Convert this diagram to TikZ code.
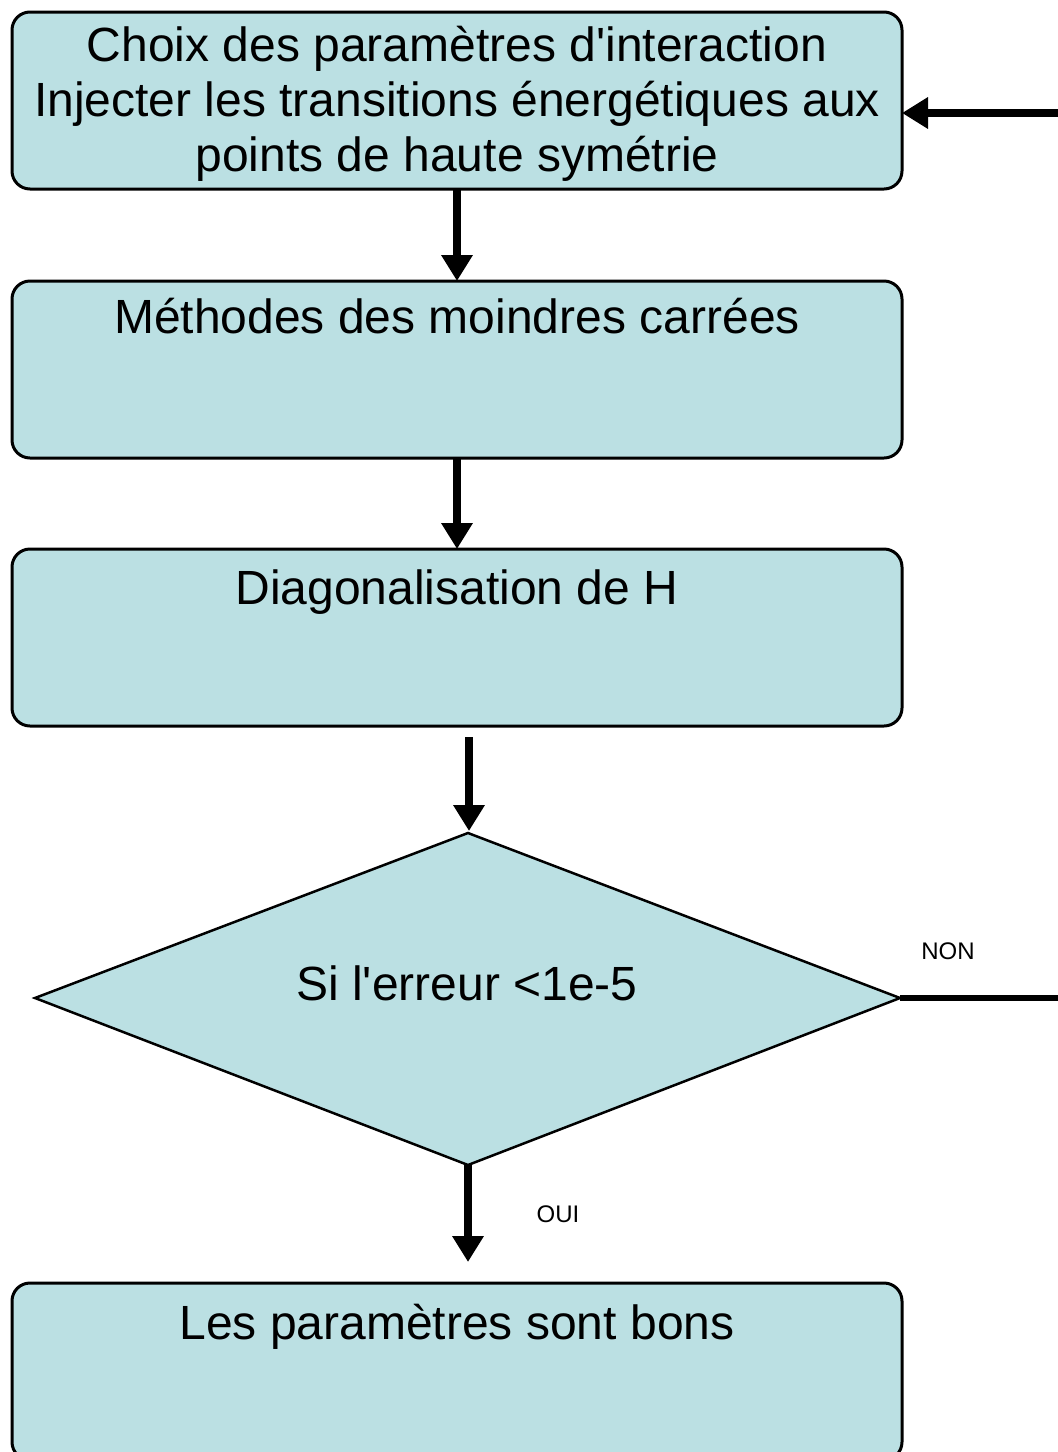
\documentclass[tikz,border=0pt]{standalone}
\usepackage{fontspec}
\setmainfont{Liberation Sans}
\usetikzlibrary{arrows.meta,calc,positioning}

\definecolor{boxfill}{RGB}{187,224,227}

\tikzset{
  stepbox/.style={draw=black, line width=3pt, fill=boxfill, rounded corners=18pt,
    minimum width=890pt, minimum height=177pt, inner sep=0pt, outer sep=0pt},
  boxtext/.style={anchor=base, inner sep=0pt, font=\fontsize{48}{55}\selectfont},
  flow/.style={draw=black, line width=8pt, -{Triangle[width=30pt,length=26pt]}},
  plainline/.style={draw=black, line width=6pt},
  small/.style={inner sep=0pt, font=\fontsize{24}{28}\selectfont}
}

\begin{document}
\begin{tikzpicture}[x=1pt, y=-1pt]
  \useasboundingbox (0,0) rectangle (1058,1452);
  \clip (0,0) rectangle (1058,1452);
  \fill[white] (0,0) rectangle (1058,1452);

  % process boxes
  \node[stepbox] (b1) at (457,100.5) {};
  \node[inner sep=0pt, align=center, font=\fontsize{48}{55}\selectfont] (t1)
    at ($(b1.center)+(0,3)$)
    {Choix des paramètres d\textquotesingle interaction\\Injecter les transitions énergétiques aux\\points de haute symétrie};
  \node[stepbox] (b2) at (457,369.5) {};
  \node[boxtext] (t2) at ($(b2.north)+(0,52)$) {Méthodes des moindres carrées};
  \node[stepbox] (b3) at (457,637.5) {};
  \node[boxtext] (t3) at ($(b3.north)+(0,55)$) {Diagonalisation de H};
  \node[stepbox] (b5) at (457,1371.5) {};
  \node[boxtext] (t5) at ($(b5.north)+(0,56)$) {Les paramètres sont bons};

  % decision diamond
  \coordinate (dtop) at (468,833);
  \coordinate (dright) at (900,998);
  \coordinate (dbot) at (468,1165);
  \coordinate (dleft) at (35,998);
  \draw[line width=2.5pt, fill=boxfill, line join=miter] (dtop) -- (dright) -- (dbot) -- (dleft) -- cycle;
  \node[boxtext] (td) at (467,1000) {Si l\textquotesingle erreur <1e-5};

  % connectors
  \draw[flow] (b1.south) -- (b2.north);
  \draw[flow] (b2.south) -- (b3.north);
  \coordinate (c3) at (469,737);
  \coordinate (c3end) at (469,831);
  \draw[flow] (c3) -- (c3end);
  \coordinate (c4end) at (468,1262);
  \draw[flow] (dbot) -- (c4end);

  % return loop from the decision back to the first box
  \coordinate (loopcorner) at (1080,998);
  \coordinate (loopin) at (902,113);
  \draw[plainline] (dright) -- (loopcorner);
  \draw[flow] (loopcorner) |- (loopin);

  % branch labels
  \node[small] (lnon) at (948,951) {NON};
  \node[small] (loui) at (558,1214) {OUI};
\end{tikzpicture}
\end{document}
